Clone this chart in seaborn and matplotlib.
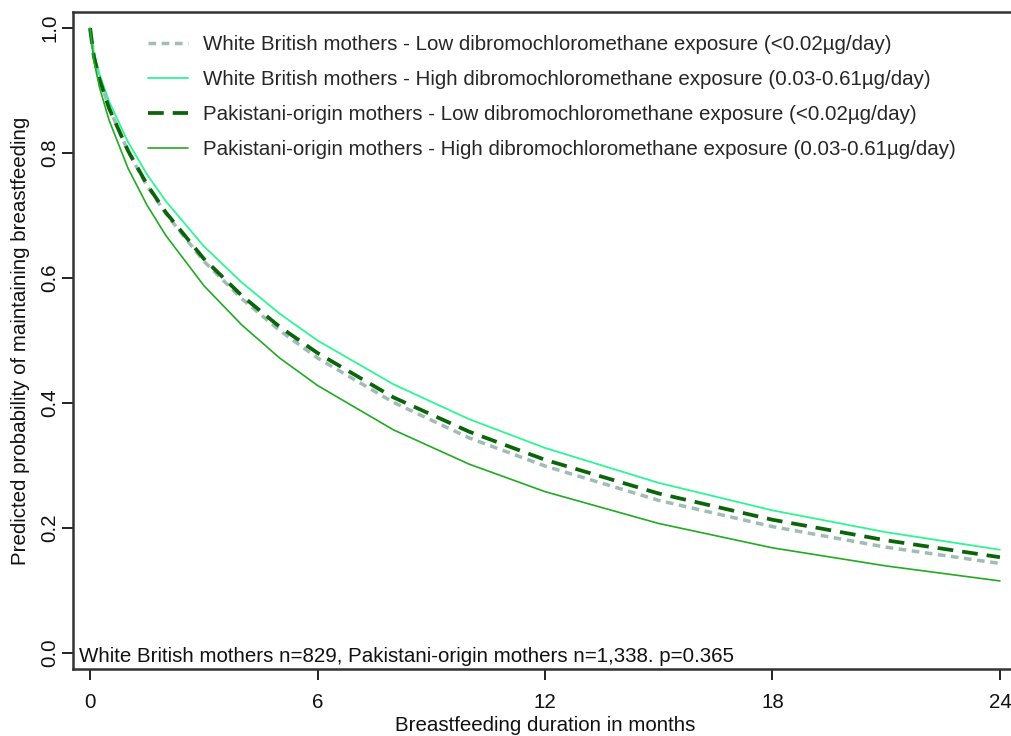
import matplotlib
matplotlib.use("Agg")
import matplotlib.pyplot as plt
import seaborn as sns
import pandas as pd

# Predicted survival (probability of still breastfeeding) by month
months = [0, 0.1, 0.25, 0.5, 1, 1.5, 2, 3, 4, 5, 6, 8, 10, 12, 15, 18, 21, 24]
wb_low = [1.0, 0.956, 0.919, 0.873, 0.803, 0.748, 0.703, 0.627, 0.567, 0.516, 0.472,
          0.401, 0.344, 0.299, 0.244, 0.202, 0.169, 0.143]
wb_high = [1.0, 0.960, 0.926, 0.883, 0.818, 0.766, 0.723, 0.651, 0.593, 0.543, 0.500,
           0.430, 0.374, 0.328, 0.272, 0.228, 0.193, 0.165]
pak_low = [1.0, 0.955, 0.918, 0.872, 0.804, 0.750, 0.705, 0.631, 0.572, 0.522, 0.480,
           0.409, 0.354, 0.309, 0.255, 0.213, 0.180, 0.153]
pak_high = [1.0, 0.948, 0.905, 0.853, 0.776, 0.717, 0.668, 0.588, 0.525, 0.472, 0.428,
            0.357, 0.302, 0.258, 0.207, 0.168, 0.139, 0.115]

labels = [
    "White British mothers - Low dibromochloromethane exposure (<0.02\u00b5g/day)",
    "White British mothers - High dibromochloromethane exposure (0.03-0.61\u00b5g/day)",
    "Pakistani-origin mothers - Low dibromochloromethane exposure (<0.02\u00b5g/day)",
    "Pakistani-origin mothers - High dibromochloromethane exposure (0.03-0.61\u00b5g/day)",
]
x_ticks = [0, 6, 12, 18, 24]
y_ticks = [0.0, 0.2, 0.4, 0.6, 0.8, 1.0]
note = "White British mothers n=829, Pakistani-origin mothers n=1,338. p=0.365"

series = [wb_low, wb_high, pak_low, pak_high]
frames = [pd.DataFrame({"month": months, "prob": vals, "group": lab})
          for vals, lab in zip(series, labels)]
df = pd.concat(frames, ignore_index=True)

sns.set_style("ticks")
plt.rcParams["font.family"] = ["Liberation Sans", "DejaVu Sans"]

FS = 14.8

styles = {
    labels[0]: dict(color="#9fbcb5", lw=2.5, dashes=(2.2, 1.6)),
    labels[1]: dict(color="#2ff594", lw=1.3, dashes=None),
    labels[2]: dict(color="#0a640a", lw=2.7, dashes=(4.2, 2.4)),
    labels[3]: dict(color="#22aa22", lw=1.2, dashes=None),
}

fig = plt.figure(figsize=(10.11, 7.36), dpi=100)
ax = fig.add_axes([73 / 1011, 1 - 669 / 736, (1017 - 73) / 1011, (669 - 12) / 736])

for lab in labels:
    st = styles[lab]
    sub = df[df["group"] == lab]
    line_kw = {}
    if st["dashes"] is not None:
        line_kw["dashes"] = st["dashes"]
    sns.lineplot(data=sub, x="month", y="prob", ax=ax, color=st["color"],
                 linewidth=st["lw"], label=lab, **line_kw)

ax.set_xlim(-0.45, 24.45)
ax.set_ylim(-0.026, 1.026)
ax.set_xticks(x_ticks)
ax.set_xticklabels([str(t) for t in x_ticks])
ax.set_yticks(y_ticks)
ax.set_yticklabels([f"{t:.1f}" for t in y_ticks], rotation=90, va="center")

ax.tick_params(axis="both", direction="out", length=8, width=1.4,
               labelsize=FS, color="#222222", labelcolor="#111111")
ax.tick_params(axis="x", pad=9)
ax.tick_params(axis="y", pad=2)
for side in ["left", "bottom", "top"]:
    ax.spines[side].set_linewidth(1.8)
    ax.spines[side].set_color("#333333")
ax.spines["right"].set_visible(False)

ax.set_xlabel("Breastfeeding duration in months", fontsize=FS, color="#111111", labelpad=3)
ax.set_ylabel("Predicted probability of maintaining breastfeeding", fontsize=FS,
              color="#111111", labelpad=7)

ax.text(79 / 1011, 1 - 656 / 736, note, transform=fig.transFigure, fontsize=FS,
        color="#111111", va="center", ha="left")

leg = ax.legend(loc="upper left", bbox_to_anchor=(56 / 944, 0.993), frameon=False,
                fontsize=FS, handlelength=1.95, handletextpad=0.75, labelspacing=0.78)

fig.savefig("out.png", dpi=100)
